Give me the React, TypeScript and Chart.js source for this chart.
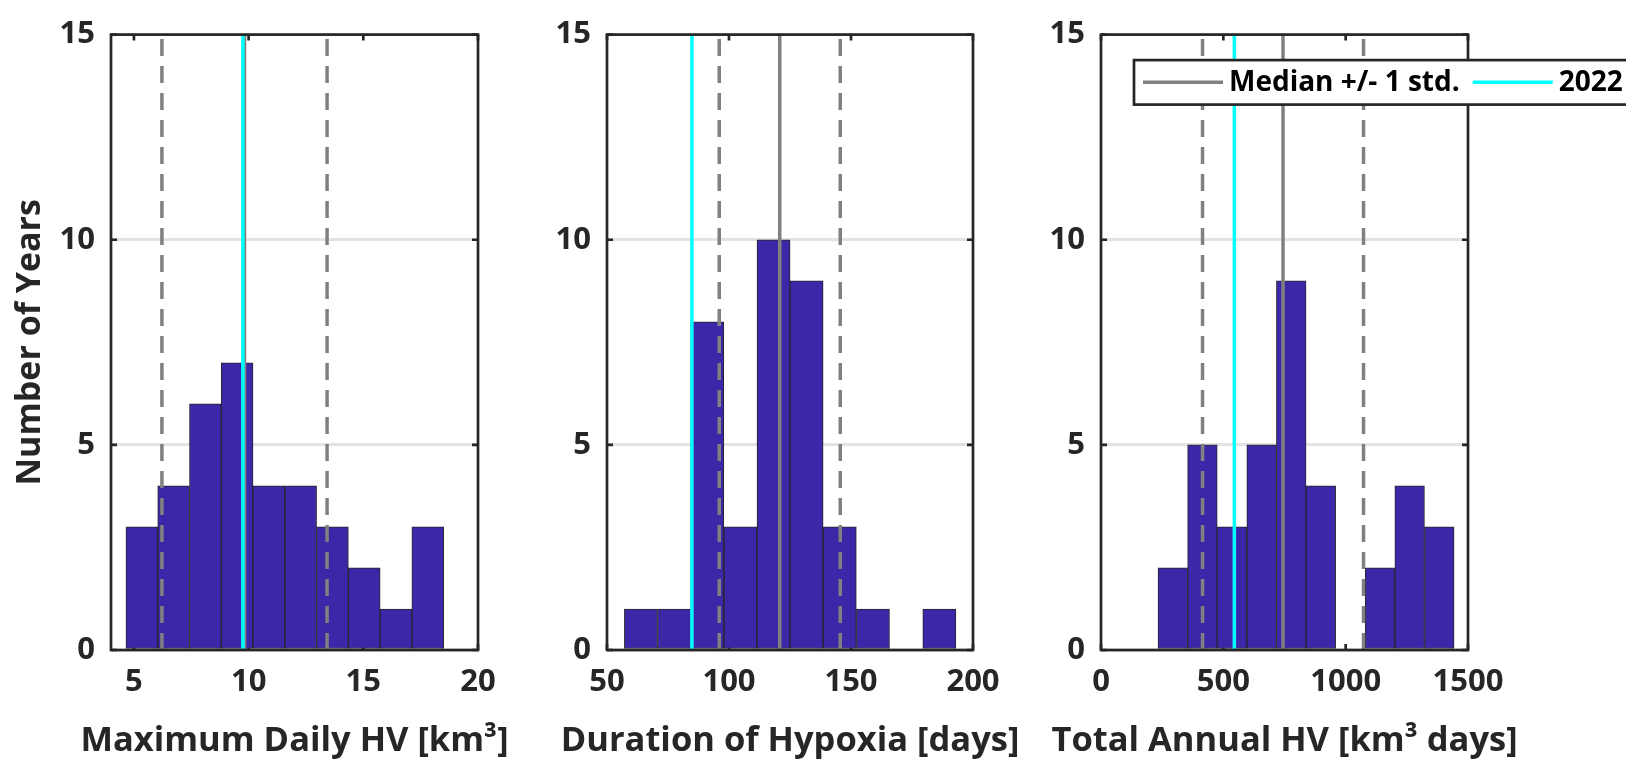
import React, { useEffect, useRef } from "react";
import { Chart, registerables } from "chart.js";

Chart.register(...registerables);

const FONT = "'Open Sans', Lato, sans-serif";
const AXIS_COLOR = "#262626";

// ---------- Data ----------
const yTicks = [0, 5, 10, 15];

// Panel 1: Maximum Daily HV
const maxDailyEdges = [4.65, 6.04, 7.42, 8.81, 10.19, 11.58, 12.96, 14.35, 15.73, 17.12, 18.5];
const maxDailyCounts = [3, 4, 6, 7, 4, 4, 3, 2, 1, 3];
const maxDailyTicks = [5, 10, 15, 20];
const maxDailyRange = [4, 20];
const maxDailyMedian = 9.82;
const maxDailyStd = 3.6;
const maxDaily2022 = 9.75;

// Panel 2: Duration of Hypoxia
const durationEdges = [57.1, 70.7, 84.3, 97.9, 111.5, 125.0, 138.6, 152.2, 165.8, 179.4, 193.0];
const durationCounts = [1, 1, 8, 3, 10, 9, 3, 1, 0, 1];
const durationTicks = [50, 100, 150, 200];
const durationRange = [50, 200];
const durationMedian = 120.8;
const durationStd = 24.8;
const duration2022 = 84.8;

// Panel 3: Total Annual HV
const totalEdges = [233, 354, 475, 596, 717, 838, 959, 1080, 1201, 1322, 1443];
const totalCounts = [2, 5, 3, 5, 9, 4, 0, 2, 4, 3];
const totalTicks = [0, 500, 1000, 1500];
const totalRange = [0, 1500];
const totalMedian = 744;
const totalStd = 329;
const total2022 = 545;

const yTitle = "Number of Years";
const legendLabels = ["Median +/- 1 std.", "2022"];

// ---------- Layout (pixels) ----------
const W = 1626;
const H = 761;
const PLOT_TOP = 22;
const PLOT_BOTTOM = 650;
const Y_AXIS_W = 100;
const X_TITLE_Y = 741;

const panels = [
  {
    title: "Maximum Daily HV [km\u00B3]",
    edges: maxDailyEdges, counts: maxDailyCounts, ticks: maxDailyTicks, range: maxDailyRange,
    median: maxDailyMedian, std: maxDailyStd, y2022: maxDaily2022,
    left: 111, right: 478, showYTitle: true, legend: false,
  },
  {
    title: "Duration of Hypoxia [days]",
    edges: durationEdges, counts: durationCounts, ticks: durationTicks, range: durationRange,
    median: durationMedian, std: durationStd, y2022: duration2022,
    left: 607, right: 973, showYTitle: false, legend: false,
  },
  {
    title: "Total Annual HV [km\u00B3 days]",
    edges: totalEdges, counts: totalCounts, ticks: totalTicks, range: totalRange,
    median: totalMedian, std: totalStd, y2022: total2022,
    left: 1101, right: 1468, showYTitle: false, legend: true,
  },
];

const framePlugin = {
  id: "frame",
  beforeDatasetsDraw(chart: any) {
    const { ctx, chartArea: a, scales } = chart;
    const x = scales.x;
    const y = scales.y;
    const len = 6;
    ctx.save();
    ctx.strokeStyle = AXIS_COLOR;
    ctx.lineWidth = 2.7;
    ctx.beginPath();
    x.ticks.forEach((t: any) => {
      const px = x.getPixelForValue(t.value);
      ctx.moveTo(px, a.top);
      ctx.lineTo(px, a.top + len);
      ctx.moveTo(px, a.bottom);
      ctx.lineTo(px, a.bottom - len);
    });
    y.ticks.forEach((t: any) => {
      const py = y.getPixelForValue(t.value);
      ctx.moveTo(a.left, py);
      ctx.lineTo(a.left + len, py);
      ctx.moveTo(a.right, py);
      ctx.lineTo(a.right - len, py);
    });
    ctx.stroke();
    ctx.restore();
  },
  afterDatasetsDraw(chart: any) {
    const { ctx, chartArea: a } = chart;
    ctx.save();
    ctx.strokeStyle = AXIS_COLOR;
    ctx.lineWidth = 2.7;
    ctx.strokeRect(a.left, a.top, a.right - a.left, a.bottom - a.top);
    ctx.restore();
  },
};

// x-axis title drawn without Chart.js' maxWidth squeezing (title is wider than the plot)
const xTitlePlugin = {
  id: "xTitle",
  afterDraw(chart: any, _args: any, opts: any) {
    if (!opts || !opts.text) return;
    const { ctx, chartArea: a } = chart;
    ctx.save();
    ctx.font = `bold ${opts.size}px ${FONT}`;
    ctx.fillStyle = AXIS_COLOR;
    ctx.textAlign = "center";
    ctx.textBaseline = "middle";
    ctx.fillText(opts.text, (a.left + a.right) / 2, X_TITLE_Y);
    ctx.restore();
  },
};

const legendPlugin = {
  id: "customLegend",
  afterDraw(chart: any, _args: any, opts: any) {
    if (!opts || !opts.show) return;
    const { ctx, chartArea: a } = chart;
    const boxLeft = a.left + 33;
    const boxTop = a.top + 25.5;
    const boxH = 44.5;
    const boxRight = boxLeft + 560;
    ctx.save();
    ctx.fillStyle = "#ffffff";
    ctx.fillRect(boxLeft, boxTop, boxRight - boxLeft, boxH);
    ctx.strokeStyle = AXIS_COLOR;
    ctx.lineWidth = 2.7;
    ctx.strokeRect(boxLeft, boxTop, boxRight - boxLeft, boxH);
    ctx.font = `bold 28px ${FONT}`;
    ctx.textBaseline = "middle";
    ctx.textAlign = "left";
    const cy = boxTop + boxH / 2;
    const items = [
      { label: legendLabels[0], color: "#808080" },
      { label: legendLabels[1], color: "#00FFFF" },
    ];
    let cx = boxLeft + 9;
    items.forEach((it, i) => {
      ctx.strokeStyle = it.color;
      ctx.lineWidth = 3.5;
      ctx.beginPath();
      ctx.moveTo(cx, cy);
      ctx.lineTo(cx + 80, cy);
      ctx.stroke();
      cx += 86;
      ctx.fillStyle = "#000000";
      ctx.fillText(it.label, cx, cy + 1);
      cx += ctx.measureText(it.label).width + (i === 0 ? 13 : 0);
    });
    ctx.restore();
  },
};

function makeConfig(p: any): any {
  const centers = p.edges.slice(0, -1).map((e: number, i: number) => (e + p.edges[i + 1]) / 2);
  const bars = centers.map((c: number, i: number) => ({ x: c, y: p.counts[i] }));
  const yMin = yTicks[0];
  const yMax = yTicks[yTicks.length - 1];
  const vline = (v: number) => [{ x: v, y: yMin }, { x: v, y: yMax }];
  const lineBase = { type: "line", pointRadius: 0, borderWidth: 3.5, fill: false, tension: 0 };
  const tickFont = { family: FONT, size: 31, weight: "bold" };
  const yTitleFont = { family: FONT, size: 34, weight: "bold", lineHeight: 1.1 };
  return {
    type: "bar",
    data: {
      datasets: [
        { ...lineBase, label: legendLabels[1], data: vline(p.y2022), borderColor: "#00FFFF", order: 0 },
        { ...lineBase, label: legendLabels[0], data: vline(p.median), borderColor: "#808080", order: 1 },
        { ...lineBase, label: "-1 std", data: vline(p.median - p.std), borderColor: "#808080", borderDash: [17, 10], order: 1 },
        { ...lineBase, label: "+1 std", data: vline(p.median + p.std), borderColor: "#808080", borderDash: [17, 10], order: 1 },
        {
          type: "bar",
          label: "Years",
          data: bars,
          backgroundColor: "rgb(62,38,168)",
          borderColor: "#262626",
          borderWidth: 1,
          borderSkipped: false,
          barPercentage: 1,
          categoryPercentage: 1,
          order: 2,
        },
      ],
    },
    options: {
      responsive: false,
      animation: false,
      devicePixelRatio: 1,
      events: [],
      layout: {
        padding: { left: p.left - Y_AXIS_W, right: W - p.right, top: PLOT_TOP, bottom: 0 },
      },
      plugins: {
        legend: { display: false },
        tooltip: { enabled: false },
        customLegend: { show: p.legend },
        xTitle: { text: p.title, size: 34.5 },
      },
      scales: {
        x: {
          type: "linear",
          min: p.range[0],
          max: p.range[1],
          offset: false,
          grid: { display: false, drawTicks: false, offset: false },
          border: { display: false },
          afterBuildTicks: (s: any) => {
            s.ticks = p.ticks.map((v: number) => ({ value: v }));
          },
          ticks: {
            font: tickFont,
            color: AXIS_COLOR,
            padding: 14,
            maxRotation: 0,
            autoSkip: false,
            callback: (v: any) => String(v),
          },
          title: { display: false, text: p.title },
          afterFit: (s: any) => {
            s.height = H - PLOT_BOTTOM;
          },
        },
        y: {
          type: "linear",
          min: yMin,
          max: yMax,
          grid: { color: "#e3e3e3", lineWidth: 3, drawTicks: false },
          border: { display: false },
          afterBuildTicks: (s: any) => {
            s.ticks = yTicks.map((v: number) => ({ value: v }));
          },
          ticks: {
            font: tickFont,
            color: AXIS_COLOR,
            padding: 16,
            callback: (v: any) => String(v),
          },
          title: {
            display: p.showYTitle,
            text: yTitle,
            font: yTitleFont,
            color: AXIS_COLOR,
            padding: { top: 1, bottom: 0 },
          },
          afterFit: (s: any) => {
            s.width = Y_AXIS_W;
          },
        },
      },
    },
    plugins: [framePlugin, xTitlePlugin, legendPlugin],
  };
}

function Panel({ p }: { p: any }) {
  const ref = useRef<HTMLCanvasElement | null>(null);
  useEffect(() => {
    if (!ref.current) return;
    const chart = new Chart(ref.current, makeConfig(p));
    return () => chart.destroy();
  }, [p]);
  return (
    <canvas
      ref={ref}
      width={W}
      height={H}
      style={{ position: "absolute", left: 0, top: 0, width: W, height: H }}
    />
  );
}

export default function App() {
  return (
    <div
      style={{
        position: "absolute",
        left: 0,
        top: 0,
        width: W,
        height: H,
        background: "#ffffff",
        overflow: "hidden",
      }}
    >
      {panels.map((p, i) => (
        <Panel key={i} p={p} />
      ))}
    </div>
  );
}
